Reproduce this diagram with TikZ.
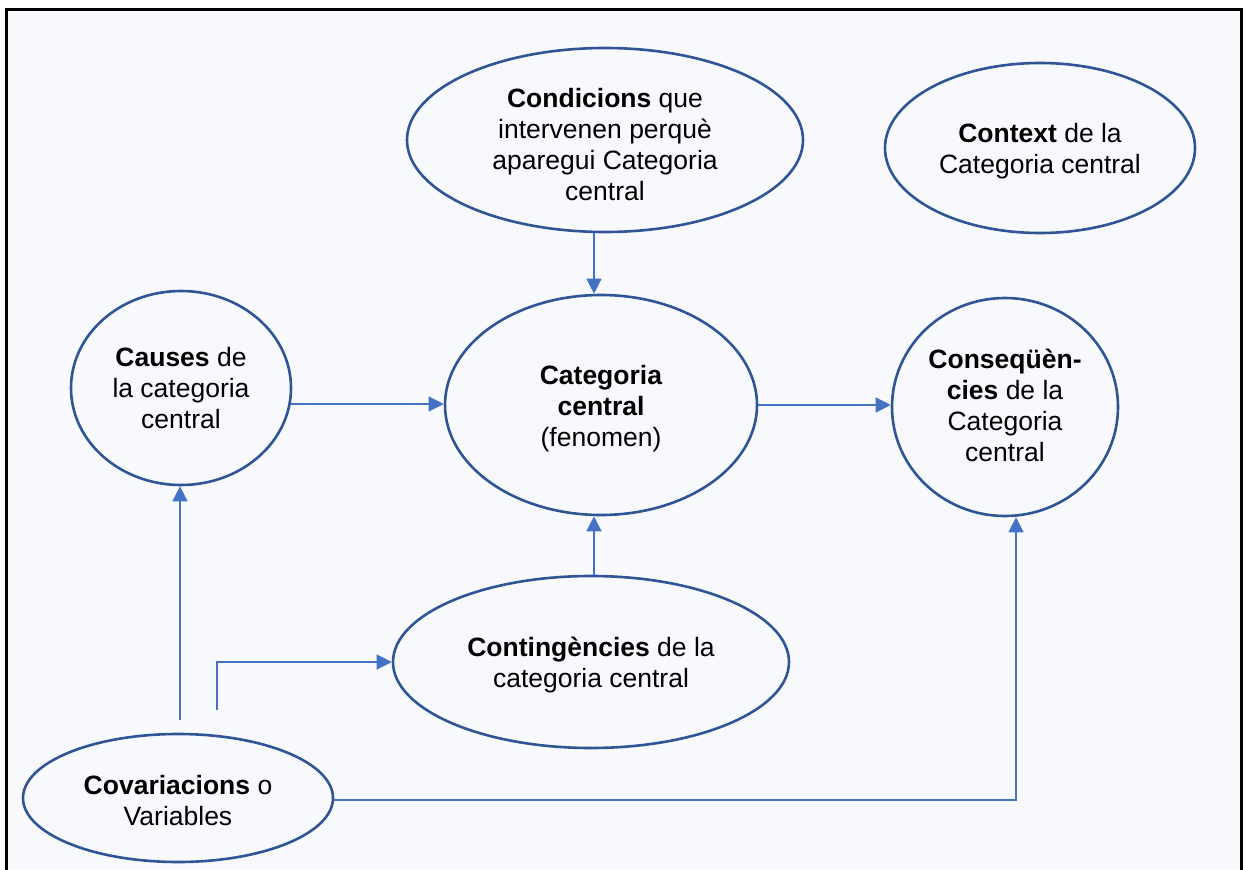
\documentclass[tikz,border=0pt]{standalone}
\usepackage{fontspec}
\setmainfont{Liberation Sans}
\usetikzlibrary{shapes.geometric,arrows.meta,calc}
\definecolor{pagebg}{HTML}{F7F9FD}
\definecolor{rim}{HTML}{2F5597}
\definecolor{link}{HTML}{4472C4}
\begin{document}
\begin{tikzpicture}[x=1pt,y=-1pt,
  bubble/.style={ellipse,draw=rim,line width=2.6pt,inner sep=0pt},
  txt/.style={inner sep=0pt,align=center,font=\fontsize{26.5}{31}\selectfont},
  conn/.style={draw=link,line width=1.3pt},
  arr/.style={conn,-{Triangle[length=15pt,width=15pt]}}]
  % page and frame
  \useasboundingbox (0,0) rectangle (1246,869);
  \fill[white] (0,0) rectangle (1246,869);
  \fill[pagebg] (6.5,10) rectangle (1241,869);
  \draw[black,line width=3pt] (6.5,875) -- (6.5,10) -- (1241,10) -- (1241,875);

  % concept outlines
  \node[bubble,minimum width=396pt,minimum height=184pt] (cond) at (605,140) {};
  \node[bubble,minimum width=310pt,minimum height=170pt] (ctx) at (1040,148) {};
  \node[bubble,minimum width=220pt,minimum height=194pt] (causes) at (181,388) {};
  \node[bubble,minimum width=312pt,minimum height=220pt] (cat) at (601,405) {};
  \node[bubble,minimum width=226pt,minimum height=218pt] (cons) at (1005,407) {};
  \node[bubble,minimum width=396pt,minimum height=172pt] (cont) at (591,662) {};
  \node[bubble,minimum width=310pt,minimum height=128pt] (cov) at (178,798) {};

  % concept texts
  \node[txt] (condT) at ($(cond)+(0,5)$)
    {\textbf{Condicions} que\\intervenen perquè\\aparegui Categoria\\central};
  \node[txt] (ctxT) at ($(ctx)+(0,3)$)
    {\textbf{Context} de la\\Categoria central};
  \node[txt] (causesT) at (causes)
    {\textbf{Causes} de\\la categoria\\central};
  \node[txt] (catT) at ($(cat)+(0,4)$)
    {\textbf{Categoria}\\\textbf{central}\\(fenomen)};
  \node[txt] (consT) at ($(cons)+(0,-2)$)
    {\textbf{Conseqüèn-}\\\textbf{cies} de la\\Categoria\\central};
  \node[txt] (contT) at ($(cont)+(0,3)$)
    {\textbf{Contingències} de la\\categoria central};
  \node[txt] (covT) at ($(cov)+(0,3)$)
    {\textbf{Covariacions} o\\Variables};

  % free ends of the two short stubs above the variables
  \coordinate (stubA) at (180,720);
  \coordinate (stubB) at (217,710);

  % connectors
  \draw[arr] ([xshift=-11pt]cond.south) -- ([xshift=-7pt]cat.north);
  \draw[arr] ([yshift=-16pt,xshift=-1pt]causes.east) -- ([yshift=-16pt]causes.east -| cat.west);
  \draw[arr] (cat.east) -- (cat.east -| cons.west);
  \draw[arr] ([xshift=3pt]cont.north) -- ([xshift=-7pt]cat.south);
  \draw[arr] (stubA) -- (stubA |- causes.south);
  \draw[arr] (stubB) |- (cont.west);
  \draw[arr] ([yshift=-2pt]cov.east) -| ([xshift=11pt]cons.south);
\end{tikzpicture}
\end{document}
